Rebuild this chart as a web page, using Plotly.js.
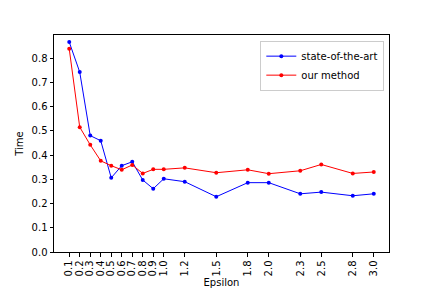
<!DOCTYPE html>
<html>
<head>
<meta charset="utf-8">
<script src="https://cdn.plot.ly/plotly-3.0.1.min.js"></script>
<style>html,body{margin:0;padding:0;background:#fff}#chart{width:432px;height:288px}</style>
</head>
<body>
<div id="chart"></div>
<script>
const epsilon = [0.1,0.2,0.3,0.4,0.5,0.6,0.7,0.8,0.9,1.0,1.2,1.5,1.8,2.0,2.3,2.5,2.8,3.0];
const tickLabels = ["0.1","0.2","0.3","0.4","0.5","0.6","0.7","0.8","0.9","1.0","1.2","1.5","1.8","2.0","2.3","2.5","2.8","3.0"];
const stateOfTheArt = [0.866,0.742,0.480,0.459,0.306,0.356,0.372,0.297,0.261,0.302,0.290,0.228,0.286,0.286,0.240,0.247,0.232,0.240];
const ourMethod = [0.838,0.515,0.442,0.376,0.356,0.339,0.359,0.324,0.341,0.341,0.347,0.327,0.339,0.323,0.335,0.361,0.324,0.330];
const yTicks = [0,0.1,0.2,0.3,0.4,0.5,0.6,0.7,0.8];

const font = {family: "DejaVu Sans", size: 10, color: "#000"};
const traces = [
  {x: epsilon, y: stateOfTheArt, name: "state-of-the-art", type: "scatter", mode: "lines+markers",
   line: {color: "blue", width: 1}, marker: {color: "blue", size: 4}},
  {x: epsilon, y: ourMethod, name: "our method", type: "scatter", mode: "lines+markers",
   line: {color: "red", width: 1}, marker: {color: "red", size: 4}}
];
const axisCommon = {showline: true, mirror: true, linecolor: "#000", linewidth: 1,
  ticks: "outside", ticklen: 3.5, tickwidth: 1, tickcolor: "#000", showgrid: false,
  zeroline: false, tickfont: font};
const layout = {
  width: 432, height: 288,
  margin: {l: 54, r: 43, t: 35, b: 36, pad: 0},
  paper_bgcolor: "#fff", plot_bgcolor: "#fff",
  font: font,
  showlegend: true,
  legend: {x: 0.986, y: 0.974, xanchor: "right", yanchor: "top",
    bgcolor: "rgba(255,255,255,0.8)", bordercolor: "#ccc", borderwidth: 1,
    font: font, itemwidth: 30, tracegroupgap: 0},
  xaxis: Object.assign({}, axisCommon, {
    range: [-0.045, 3.145], tickmode: "array", tickvals: epsilon, ticktext: tickLabels,
    tickangle: -90, automargin: false,
    title: {text: "Epsilon", font: font, standoff: 4}}),
  yaxis: Object.assign({}, axisCommon, {
    range: [0, 0.895], tickmode: "array", tickvals: yTicks,
    ticktext: yTicks.map(v => v.toFixed(1)), automargin: false,
    title: {text: "Time", font: font, standoff: 6}})
};
Plotly.newPlot("chart", traces, layout, {displayModeBar: false, staticPlot: true});
</script>
</body>
</html>
